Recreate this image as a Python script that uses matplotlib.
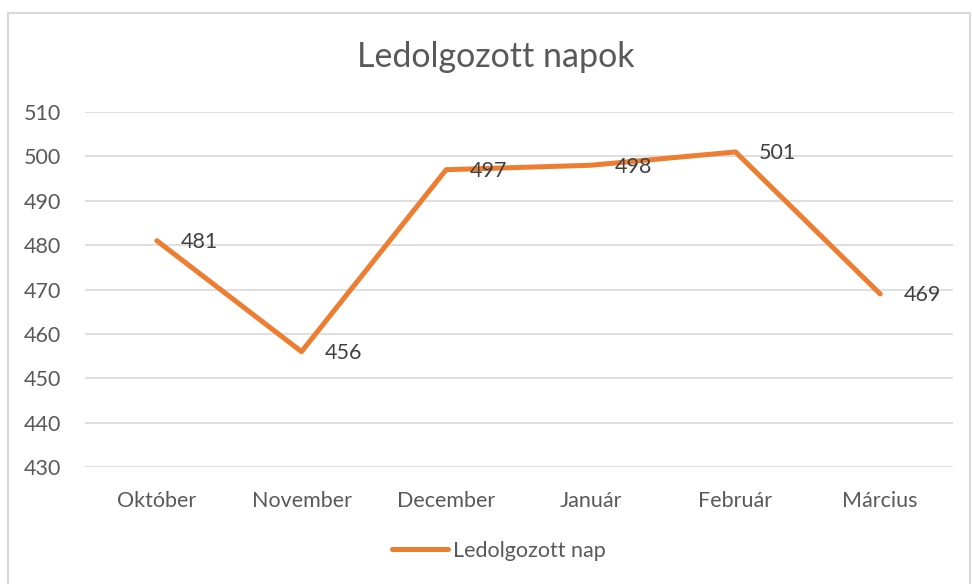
import matplotlib.pyplot as plt
from matplotlib.patches import Rectangle

# Data
months = ['Október', 'November', 'December', 'Január', 'Február', 'Március']
days = [481, 456, 497, 498, 501, 469]
y_ticks = [430, 440, 450, 460, 470, 480, 490, 500, 510]

plt.rcParams['font.family'] = ['Lato', 'DejaVu Sans']

W, H = 972, 584
fig = plt.figure(figsize=(W / 100, H / 100), dpi=100)

# outer chart border (bottom edge runs off the picture)
fig.patches.append(Rectangle((8 / W, -0.05), 962 / W, (H - 13) / H + 0.05,
                             transform=fig.transFigure, fill=False,
                             edgecolor='#d9d9d9', linewidth=1.5))

ax = fig.add_axes([84.5 / W, (H - 467) / H, 868 / W, 355 / H])
x = list(range(len(months)))
line, = ax.plot(x, days, color='#ED7D31', linewidth=3.6, solid_capstyle='round',
                solid_joinstyle='round', label='Ledolgozott nap')

for xi, v in zip(x, days):
    ax.annotate(str(v), (xi, v), xytext=(17, -1), textcoords='offset points',
                ha='left', va='center', fontsize=15.5, color='#404040')

ax.set_xlim(-0.5, len(months) - 0.5)
ax.set_ylim(430, 510)
ax.set_yticks(y_ticks)
ax.set_xticks(x)
ax.set_xticklabels(months)
ax.yaxis.grid(True, color='#d9d9d9', linewidth=1.2)
ax.set_axisbelow(True)
for s in ax.spines.values():
    s.set_visible(False)
ax.tick_params(length=0, labelsize=15.5, labelcolor='#595959')
ax.tick_params(axis='x', pad=17)
ax.tick_params(axis='y', pad=17)

fig.text(496 / W, 1 - 57 / H, 'Ledolgozott napok', ha='center', va='center',
         fontsize=24.5, color='#595959')

fig.legend(handles=[line], loc='center', bbox_to_anchor=(499 / W, 1 - 551 / H),
           frameon=False, fontsize=15.5, labelcolor='#595959', handlelength=2.6,
           handletextpad=0.2)

fig.savefig('out.png', dpi=100)
